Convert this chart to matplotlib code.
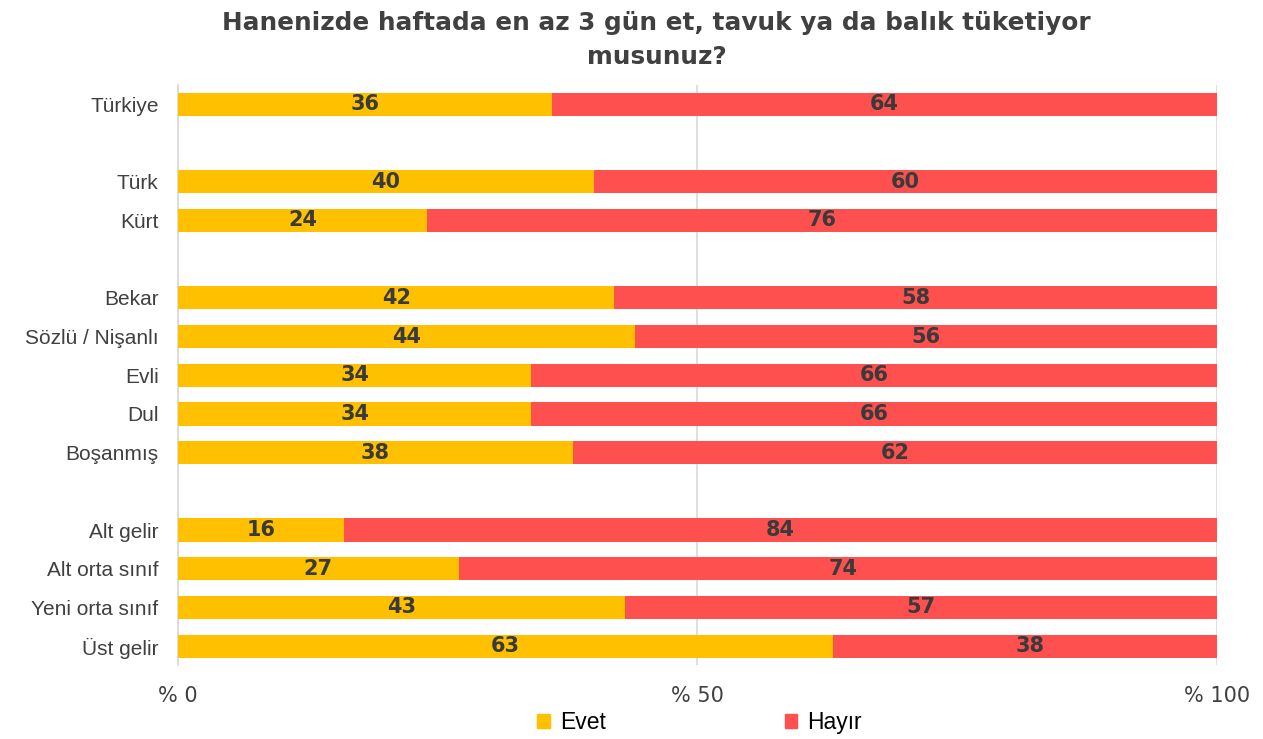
import matplotlib.pyplot as plt
import numpy as np
from matplotlib.patches import Patch

# survey answers, % of respondents (blank strings = spacer rows between groups)
groups = ['Türkiye', '', 'Türk', 'Kürt', '',
          'Bekar', 'Sözlü / Nişanlı', 'Evli', 'Dul', 'Boşanmış', '',
          'Alt gelir', 'Alt orta sınıf', 'Yeni orta sınıf', 'Üst gelir']
evet = [36, None, 40, 24, None, 42, 44, 34, 34, 38, None, 16, 27, 43, 63]
hayir = [64, None, 60, 76, None, 58, 56, 66, 66, 62, None, 84, 74, 57, 38]

yellow = '#FFC000'
red = '#FF5050'
txt = '#404040'

fig = plt.figure(figsize=(12.63, 7.39), dpi=100)
ax = fig.add_axes([0.1409, 0.0995, 0.8227, 0.7855])

y = np.arange(len(groups))
for i in y:
    if evet[i] is None:
        continue
    ax.barh(i, evet[i], height=0.6, color=yellow, zorder=3)
    ax.barh(i, hayir[i], left=evet[i], height=0.6, color=red, zorder=3)
    ax.text(evet[i] / 2, i, str(evet[i]), ha='center', va='center',
            fontsize=15, fontweight='heavy', color='#3A3A3A', zorder=4)
    ax.text(evet[i] + hayir[i] / 2, i, str(hayir[i]), ha='center', va='center',
            fontsize=15, fontweight='heavy', color='#3A3A3A', zorder=4)

ax.set_xlim(0, 100)
ax.set_ylim(14.5, -0.5)
ax.set_yticks(y)
ax.set_yticklabels(groups, fontsize=15, color=txt, family='Liberation Sans')
ax.set_xticks([0, 50, 100])
ax.set_xticklabels(['% 0', '% 50', '% 100'], fontsize=15, color=txt)
ax.tick_params(axis='y', length=0, pad=14)
ax.tick_params(axis='x', length=0, pad=15)
ax.grid(axis='x', color='#D9D9D9', linewidth=1.2, zorder=0)
for s in ['top', 'right', 'bottom']:
    ax.spines[s].set_visible(False)
ax.spines['left'].set_color('#D9D9D9')
ax.spines['left'].set_linewidth(1.2)

fig.suptitle('Hanenizde haftada en az 3 gün et, tavuk ya da balık tüketiyor\nmusunuz?',
             x=0.52, y=0.985, fontsize=17.8, fontweight='bold', color=txt,
             linespacing=1.5)

handles = [Patch(color=yellow, label='Evet'), Patch(color=red, label='Hayır')]
fig.legend(handles=handles, loc='center', bbox_to_anchor=(0.554, 0.022), ncol=2,
           frameon=False, handlelength=0.55, handleheight=0.6,
           handletextpad=0.45, columnspacing=7.8,
           prop={'family': 'Liberation Sans', 'size': 16.5})

fig.savefig('out.png', dpi=100)
